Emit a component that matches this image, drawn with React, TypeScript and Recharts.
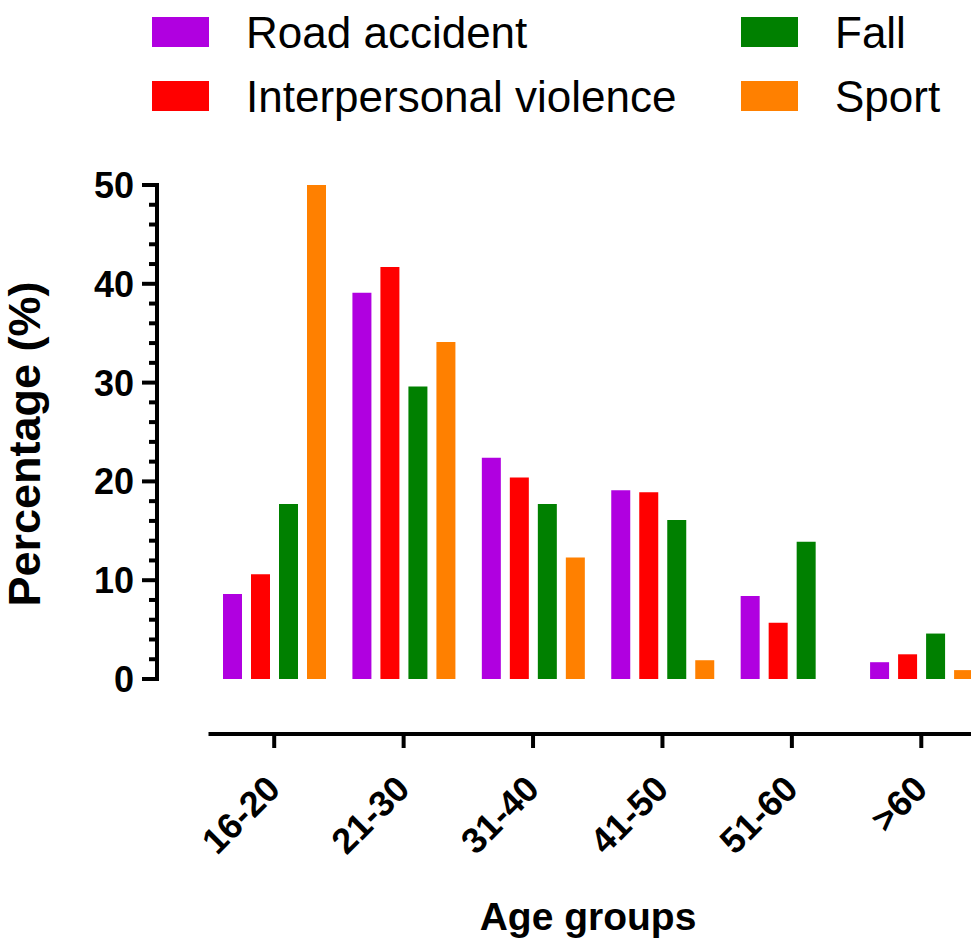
import { BarChart, Bar, XAxis, YAxis } from 'recharts'

const GROUPS = ['16-20', '21-30', '31-40', '41-50', '51-60', '>60']
const ROAD = [8.6, 39.1, 22.4, 19.1, 8.4, 1.7]
const VIOLENCE = [10.6, 41.7, 20.4, 18.9, 5.7, 2.5]
const FALL = [17.7, 29.6, 17.7, 16.1, 13.9, 4.6]
const SPORT = [50, 34.1, 12.3, 1.9, 0, 0.9]
const Y_TICKS = [0, 2, 4, 6, 8, 10, 12, 14, 16, 18, 20, 22, 24, 26, 28, 30, 32, 34, 36, 38, 40, 42, 44, 46, 48, 50]

const SERIES = [
  { key: 'road', name: 'Road accident', values: ROAD },
  { key: 'violence', name: 'Interpersonal violence', values: VIOLENCE },
  { key: 'fall', name: 'Fall', values: FALL },
  { key: 'sport', name: 'Sport', values: SPORT },
]

const COLORS: Record<string, string> = {
  road: '#B000E0',
  violence: '#FF0000',
  fall: '#008000',
  sport: '#FF8000',
}

const FONT = '"Liberation Sans", Arial, sans-serif'

const data = GROUPS.map((g, i) => {
  const row: Record<string, string | number> = { group: g }
  SERIES.forEach(s => { row[s.key] = s.values[i] })
  return row
})

function YTick(props: any) {
  const { x, y, payload } = props
  const major = payload.value % 10 === 0
  return (
    <g>
      <line x1={x - (major ? 15 : 8)} x2={x} y1={y} y2={y} stroke="#000" strokeWidth={4} />
      {major && (
        <text x={x - 23} y={y + 13} textAnchor="end" fontSize={36} fontWeight="bold" fontFamily={FONT} fill="#000">
          {payload.value}
        </text>
      )}
    </g>
  )
}

// the x axis sits below the zero line, so each tick draws its own piece of it
function XTick(props: any) {
  const { x, y, payload } = props
  const half = (payload.offset ?? 64.7) + 1
  const ly = y + 55
  return (
    <g>
      <line x1={x - half} x2={x + half} y1={ly} y2={ly} stroke="#000" strokeWidth={4} />
      <line x1={x} x2={x} y1={ly} y2={ly + 14} stroke="#000" strokeWidth={4} />
      <text
        transform={`translate(${x + 8}, ${y + 112}) rotate(-45)`}
        textAnchor="end"
        fontSize={36}
        fontWeight="bold"
        fontFamily={FONT}
        fill="#000"
      >
        {payload.value}
      </text>
    </g>
  )
}

function Legend() {
  const colX = [152, 741]
  const rowY = [17, 81]
  return (
    <svg width={971} height={130} style={{ position: 'absolute', left: 0, top: 0 }}>
      {SERIES.map((s, i) => {
        const sx = colX[Math.floor(i / 2)]
        const sy = rowY[i % 2]
        return (
          <g key={s.key}>
            <rect x={sx} y={sy} width={57} height={30} fill={COLORS[s.key]} />
            <text x={sx + 94} y={sy + 31} fontSize={44} fontFamily={FONT} fill="#000">{s.name}</text>
          </g>
        )
      })}
    </svg>
  )
}

export default function App() {
  return (
    <div style={{ position: 'absolute', left: 0, top: 0, width: 971, height: 940, overflow: 'hidden', background: '#fff' }}>
      <BarChart
        width={986}
        height={940}
        data={data}
        margin={{ top: 185, right: 0, bottom: 0, left: 0 }}
        barGap={9}
        barCategoryGap={13.5}
      >
        <XAxis
          dataKey="group"
          height={261}
          padding={{ left: 52.5, right: 0 }}
          axisLine={false}
          tickLine={false}
          tickSize={0}
          tickMargin={0}
          interval={0}
          tick={<XTick />}
          label={{
            content: (p: any) => {
              const vb = p.viewBox
              return (
                <text x={vb.x + vb.width / 2 + 16.5} y={vb.y + vb.height - 10} textAnchor="middle" fontSize={39} fontWeight="bold" fontFamily={FONT} fill="#000">
                  Age groups
                </text>
              )
            },
          }}
        />
        <YAxis
          width={157}
          domain={[0, 50]}
          ticks={Y_TICKS}
          interval={0}
          axisLine={{ stroke: '#000', strokeWidth: 4, strokeLinecap: 'square' }}
          tickLine={false}
          tickSize={0}
          tickMargin={0}
          tick={<YTick />}
          label={{
            content: (p: any) => {
              const vb = p.viewBox
              return (
                <text transform={`translate(40, ${vb.y + vb.height / 2 + 12}) rotate(-90)`} textAnchor="middle" fontSize={45} fontWeight="bold" fontFamily={FONT} fill="#000">
                  Percentage (%)
                </text>
              )
            },
          }}
        />
        {SERIES.map(s => (
          <Bar key={s.key} dataKey={s.key} name={s.name} fill={COLORS[s.key]} isAnimationActive={false} />
        ))}
      </BarChart>
      <Legend />
    </div>
  )
}
